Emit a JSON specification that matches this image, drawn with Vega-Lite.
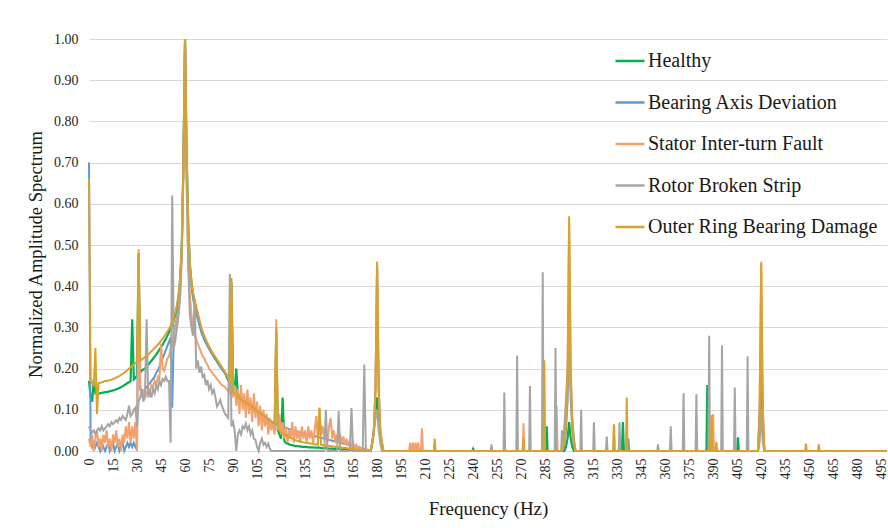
{
  "$schema": "https://vega.github.io/schema/vega-lite/v6.json",
  "autosize": {"type": "none"},
  "padding": {"left": 89, "top": 39, "right": 1, "bottom": 77},
  "width": 798,
  "height": 412,
  "background": "white",
  "config": {"view": {"stroke": null}, "font": "Liberation Serif"},
  "data": {"values": [
    {"f":0,"H":0.17,"B":0.70,"S":0.03,"R":0.06,"O":0.66},
    {"f":1,"H":0.13,"B":0.03,"S":0.01,"R":0.05,"O":0.17},
    {"f":2,"H":0.12,"B":0.01,"S":0.04,"R":0.045,"O":0.165},
    {"f":3,"H":0.175,"B":0.02,"S":0,"R":0.05,"O":0.16},
    {"f":4,"H":0.14,"B":0.01,"S":0.03,"R":0.04,"O":0.25},
    {"f":5,"H":0.14,"B":0.02,"S":0.05,"R":0.05,"O":0.09},
    {"f":6,"H":0.14,"B":0.01,"S":0.01,"R":0.055,"O":0.165},
    {"f":7,"H":0.14,"B":0,"S":0.03,"R":0.05,"O":0.165},
    {"f":8,"H":0.141,"B":0.02,"S":0,"R":0.06,"O":0.167},
    {"f":9,"H":0.142,"B":0.01,"S":0.04,"R":0.05,"O":0.168},
    {"f":10,"H":0.143,"B":0,"S":0.02,"R":0.055,"O":0.17},
    {"f":11,"H":0.143,"B":0.01,"S":0.05,"R":0.06,"O":0.17},
    {"f":12,"H":0.144,"B":0.02,"S":0.01,"R":0.065,"O":0.171},
    {"f":13,"H":0.145,"B":0,"S":0.03,"R":0.06,"O":0.172},
    {"f":14,"H":0.146,"B":0.01,"S":0,"R":0.07,"O":0.173},
    {"f":15,"H":0.147,"B":0.02,"S":0.04,"R":0.065,"O":0.175},
    {"f":16,"H":0.148,"B":0,"S":0.02,"R":0.07,"O":0.176},
    {"f":17,"H":0.15,"B":0.01,"S":0.05,"R":0.075,"O":0.178},
    {"f":18,"H":0.151,"B":0.02,"S":0.01,"R":0.07,"O":0.18},
    {"f":19,"H":0.153,"B":0,"S":0.03,"R":0.08,"O":0.182},
    {"f":20,"H":0.155,"B":0.01,"S":0,"R":0.075,"O":0.185},
    {"f":21,"H":0.157,"B":0.02,"S":0.04,"R":0.085,"O":0.187},
    {"f":22,"H":0.16,"B":0,"S":0.02,"R":0.08,"O":0.19},
    {"f":23,"H":0.162,"B":0.01,"S":0.06,"R":0.075,"O":0.193},
    {"f":24,"H":0.165,"B":0.02,"S":0.03,"R":0.09,"O":0.196},
    {"f":25,"H":0.167,"B":0.01,"S":0.07,"R":0.11,"O":0.2},
    {"f":26,"H":0.17,"B":0.02,"S":0.02,"R":0.085,"O":0.203},
    {"f":27,"H":0.32,"B":0.01,"S":0.06,"R":0.09,"O":0.206},
    {"f":28,"H":0.174,"B":0.02,"S":0.03,"R":0.1,"O":0.21},
    {"f":29,"H":0.178,"B":0.01,"S":0.07,"R":0.105,"O":0.213},
    {"f":30,"H":0.183,"B":0.02,"S":0,"R":0.06,"O":0.217},
    {"f":31,"H":0.48,"B":0.45,"S":0.49,"R":0.12,"O":0.48},
    {"f":32,"H":0.19,"B":0.15,"S":0.16,"R":0.13,"O":0.22},
    {"f":33,"H":0.195,"B":0.14,"S":0.13,"R":0.15,"O":0.222},
    {"f":34,"H":0.198,"B":0.145,"S":0.15,"R":0.12,"O":0.225},
    {"f":35,"H":0.2,"B":0.15,"S":0.13,"R":0.14,"O":0.228},
    {"f":36,"H":0.205,"B":0.155,"S":0.14,"R":0.32,"O":0.231},
    {"f":37,"H":0.21,"B":0.16,"S":0.15,"R":0.13,"O":0.235},
    {"f":38,"H":0.214,"B":0.165,"S":0.14,"R":0.145,"O":0.238},
    {"f":39,"H":0.219,"B":0.17,"S":0.16,"R":0.13,"O":0.242},
    {"f":40,"H":0.224,"B":0.175,"S":0.155,"R":0.15,"O":0.246},
    {"f":41,"H":0.229,"B":0.18,"S":0.17,"R":0.14,"O":0.25},
    {"f":42,"H":0.234,"B":0.19,"S":0.16,"R":0.16,"O":0.254},
    {"f":43,"H":0.24,"B":0.195,"S":0.18,"R":0.15,"O":0.258},
    {"f":44,"H":0.246,"B":0.205,"S":0.175,"R":0.17,"O":0.262},
    {"f":45,"H":0.252,"B":0.215,"S":0.26,"R":0.16,"O":0.268},
    {"f":46,"H":0.258,"B":0.225,"S":0.2,"R":0.175,"O":0.272},
    {"f":47,"H":0.265,"B":0.235,"S":0.195,"R":0.17,"O":0.278},
    {"f":48,"H":0.272,"B":0.245,"S":0.21,"R":0.18,"O":0.284},
    {"f":49,"H":0.28,"B":0.255,"S":0.225,"R":0.17,"O":0.29},
    {"f":50,"H":0.288,"B":0.265,"S":0.23,"R":0.17,"O":0.297},
    {"f":51,"H":0.297,"B":0.275,"S":0.25,"R":0.02,"O":0.305},
    {"f":52,"H":0.307,"B":0.105,"S":0.26,"R":0.62,"O":0.314},
    {"f":53,"H":0.318,"B":0.29,"S":0.28,"R":0.25,"O":0.325},
    {"f":54,"H":0.332,"B":0.305,"S":0.3,"R":0.27,"O":0.338},
    {"f":55,"H":0.35,"B":0.325,"S":0.32,"R":0.3,"O":0.355},
    {"f":56,"H":0.375,"B":0.35,"S":0.34,"R":0.33,"O":0.38},
    {"f":57,"H":0.42,"B":0.4,"S":0.38,"R":0.38,"O":0.42},
    {"f":58,"H":0.5,"B":0.5,"S":0.48,"R":0.48,"O":0.5},
    {"f":59,"H":0.7,"B":0.7,"S":0.68,"R":0.7,"O":0.7},
    {"f":60,"H":1,"B":1,"S":1,"R":1,"O":1},
    {"f":61,"H":0.72,"B":0.7,"S":0.66,"R":0.65,"O":0.72},
    {"f":62,"H":0.55,"B":0.53,"S":0.46,"R":0.45,"O":0.55},
    {"f":63,"H":0.45,"B":0.45,"S":0.38,"R":0.33,"O":0.46},
    {"f":64,"H":0.41,"B":0.4,"S":0.33,"R":0.3,"O":0.415},
    {"f":65,"H":0.38,"B":0.37,"S":0.3,"R":0.28,"O":0.385},
    {"f":66,"H":0.36,"B":0.35,"S":0.28,"R":0.37,"O":0.365},
    {"f":67,"H":0.345,"B":0.335,"S":0.27,"R":0.2,"O":0.35},
    {"f":68,"H":0.33,"B":0.32,"S":0.26,"R":0.22,"O":0.335},
    {"f":69,"H":0.31,"B":0.305,"S":0.25,"R":0.19,"O":0.318},
    {"f":70,"H":0.295,"B":0.29,"S":0.24,"R":0.205,"O":0.302},
    {"f":71,"H":0.285,"B":0.28,"S":0.23,"R":0.18,"O":0.29},
    {"f":72,"H":0.275,"B":0.27,"S":0.225,"R":0.185,"O":0.28},
    {"f":73,"H":0.266,"B":0.262,"S":0.215,"R":0.16,"O":0.27},
    {"f":74,"H":0.258,"B":0.255,"S":0.21,"R":0.172,"O":0.262},
    {"f":75,"H":0.25,"B":0.248,"S":0.2,"R":0.15,"O":0.254},
    {"f":76,"H":0.243,"B":0.241,"S":0.195,"R":0.16,"O":0.247},
    {"f":77,"H":0.236,"B":0.234,"S":0.19,"R":0.14,"O":0.24},
    {"f":78,"H":0.23,"B":0.228,"S":0.185,"R":0.148,"O":0.234},
    {"f":79,"H":0.224,"B":0.222,"S":0.18,"R":0.13,"O":0.228},
    {"f":80,"H":0.218,"B":0.216,"S":0.175,"R":0.108,"O":0.222},
    {"f":81,"H":0.212,"B":0.21,"S":0.17,"R":0.115,"O":0.216},
    {"f":82,"H":0.206,"B":0.204,"S":0.165,"R":0.124,"O":0.21},
    {"f":83,"H":0.2,"B":0.198,"S":0.16,"R":0.11,"O":0.204},
    {"f":84,"H":0.195,"B":0.193,"S":0.158,"R":0.1,"O":0.198},
    {"f":85,"H":0.19,"B":0.188,"S":0.155,"R":0.09,"O":0.192},
    {"f":86,"H":0.18,"B":0.183,"S":0.15,"R":0.085,"O":0.185},
    {"f":87,"H":0.172,"B":0.178,"S":0.145,"R":0.08,"O":0.178},
    {"f":88,"H":0.165,"B":0.17,"S":0.14,"R":0.43,"O":0.172},
    {"f":89,"H":0.41,"B":0.4,"S":0.39,"R":0.06,"O":0.42},
    {"f":90,"H":0.16,"B":0.155,"S":0.13,"R":0.07,"O":0.145},
    {"f":91,"H":0.145,"B":0.15,"S":0.16,"R":0.05,"O":0.14},
    {"f":92,"H":0.2,"B":0.145,"S":0.11,"R":0,"O":0.135},
    {"f":93,"H":0.135,"B":0.14,"S":0.15,"R":0.04,"O":0.132},
    {"f":94,"H":0.13,"B":0.136,"S":0.09,"R":0.05,"O":0.128},
    {"f":95,"H":0.126,"B":0.132,"S":0.16,"R":0.04,"O":0.125},
    {"f":96,"H":0.122,"B":0.128,"S":0.1,"R":0.06,"O":0.122},
    {"f":97,"H":0.118,"B":0.124,"S":0.14,"R":0.055,"O":0.12},
    {"f":98,"H":0.115,"B":0.12,"S":0.08,"R":0.067,"O":0.118},
    {"f":99,"H":0.112,"B":0.117,"S":0.15,"R":0.05,"O":0.115},
    {"f":100,"H":0.109,"B":0.114,"S":0.09,"R":0.06,"O":0.112},
    {"f":101,"H":0.106,"B":0.111,"S":0.13,"R":0.04,"O":0.11},
    {"f":102,"H":0.103,"B":0.108,"S":0.07,"R":0.05,"O":0.107},
    {"f":103,"H":0.1,"B":0.105,"S":0.14,"R":0.03,"O":0.104},
    {"f":104,"H":0.097,"B":0.102,"S":0.08,"R":0.027,"O":0.101},
    {"f":105,"H":0.094,"B":0.099,"S":0.12,"R":0.01,"O":0.098},
    {"f":106,"H":0.091,"B":0.096,"S":0.06,"R":0,"O":0.095},
    {"f":107,"H":0.088,"B":0.093,"S":0.11,"R":0.02,"O":0.092},
    {"f":108,"H":0.085,"B":0.09,"S":0.05,"R":0.03,"O":0.089},
    {"f":109,"H":0.082,"B":0.087,"S":0.1,"R":0.015,"O":0.086},
    {"f":110,"H":0.079,"B":0.084,"S":0.06,"R":0.02,"O":0.083},
    {"f":111,"H":0.076,"B":0.081,"S":0.09,"R":0.01,"O":0.08},
    {"f":112,"H":0.072,"B":0.078,"S":0.04,"R":0.018,"O":0.077},
    {"f":113,"H":0.068,"B":0.075,"S":0.08,"R":0.005,"O":0.074},
    {"f":114,"H":0.064,"B":0.072,"S":0.05,"R":0,"O":0.071},
    {"f":115,"H":0.06,"B":0.07,"S":0.07,"R":0,"O":0.068},
    {"f":116,"H":0.055,"B":0.068,"S":0.04,"R":0,"O":0.065},
    {"f":117,"H":0.29,"B":0.066,"S":0.32,"R":0,"O":0.3},
    {"f":118,"H":0.05,"B":0.064,"S":0.05,"R":0,"O":0.06},
    {"f":119,"H":0.04,"B":0.062,"S":0.09,"R":0,"O":0.05},
    {"f":120,"H":0.03,"B":0.06,"S":0.04,"R":0,"O":0.045},
    {"f":121,"H":0.13,"B":0.058,"S":0.07,"R":0,"O":0.042},
    {"f":122,"H":0.025,"B":0.057,"S":0.03,"R":0,"O":0.04},
    {"f":123,"H":0.02,"B":0.056,"S":0.06,"R":0,"O":0.038},
    {"f":124,"H":0.018,"B":0.055,"S":0.02,"R":0,"O":0.036},
    {"f":125,"H":0.016,"B":0.053,"S":0.05,"R":0,"O":0.034},
    {"f":126,"H":0.015,"B":0.052,"S":0.03,"R":0,"O":0.032},
    {"f":127,"H":0.014,"B":0.05,"S":0.07,"R":0,"O":0.03},
    {"f":128,"H":0.013,"B":0.049,"S":0.02,"R":0,"O":0.028},
    {"f":129,"H":0.012,"B":0.048,"S":0.06,"R":0,"O":0.026},
    {"f":130,"H":0.012,"B":0.047,"S":0.03,"R":0,"O":0.025},
    {"f":131,"H":0.011,"B":0.046,"S":0.05,"R":0,"O":0.024},
    {"f":132,"H":0.011,"B":0.045,"S":0.02,"R":0,"O":0.023},
    {"f":133,"H":0.01,"B":0.044,"S":0.06,"R":0,"O":0.022},
    {"f":134,"H":0.01,"B":0.043,"S":0.03,"R":0,"O":0.021},
    {"f":135,"H":0.01,"B":0.042,"S":0.05,"R":0,"O":0.02},
    {"f":136,"H":0.01,"B":0.041,"S":0.02,"R":0,"O":0.02},
    {"f":137,"H":0.009,"B":0.04,"S":0.06,"R":0,"O":0.019},
    {"f":138,"H":0.009,"B":0.039,"S":0.03,"R":0,"O":0.018},
    {"f":139,"H":0.009,"B":0.038,"S":0.05,"R":0,"O":0.018},
    {"f":140,"H":0.009,"B":0.037,"S":0.02,"R":0,"O":0.017},
    {"f":141,"H":0.008,"B":0.036,"S":0.05,"R":0,"O":0.016},
    {"f":142,"H":0.008,"B":0.035,"S":0.085,"R":0,"O":0.016},
    {"f":143,"H":0.008,"B":0.034,"S":0.03,"R":0,"O":0.015},
    {"f":144,"H":0.008,"B":0.033,"S":0.105,"R":0,"O":0.105},
    {"f":145,"H":0.007,"B":0.032,"S":0.04,"R":0,"O":0.015},
    {"f":146,"H":0.007,"B":0.031,"S":0.06,"R":0,"O":0.014},
    {"f":147,"H":0.007,"B":0.03,"S":0.03,"R":0,"O":0.014},
    {"f":148,"H":0.007,"B":0.029,"S":0.05,"R":0.1,"O":0.013},
    {"f":149,"H":0.006,"B":0.028,"S":0.02,"R":0,"O":0.013},
    {"f":150,"H":0.006,"B":0.027,"S":0.06,"R":0,"O":0.012},
    {"f":151,"H":0.006,"B":0.026,"S":0.08,"R":0,"O":0.012},
    {"f":152,"H":0.006,"B":0.025,"S":0.03,"R":0,"O":0.011},
    {"f":153,"H":0.005,"B":0.024,"S":0.05,"R":0,"O":0.011},
    {"f":154,"H":0.005,"B":0.023,"S":0.02,"R":0,"O":0.01},
    {"f":155,"H":0.005,"B":0.022,"S":0.04,"R":0,"O":0.01},
    {"f":156,"H":0.005,"B":0.021,"S":0.02,"R":0.097,"O":0.009},
    {"f":157,"H":0.004,"B":0.02,"S":0.04,"R":0,"O":0.009},
    {"f":158,"H":0.004,"B":0.019,"S":0.02,"R":0,"O":0.008},
    {"f":159,"H":0.004,"B":0.018,"S":0.035,"R":0,"O":0.008},
    {"f":160,"H":0.004,"B":0.017,"S":0.015,"R":0,"O":0.007},
    {"f":161,"H":0.003,"B":0.016,"S":0.03,"R":0,"O":0.007},
    {"f":162,"H":0.003,"B":0.015,"S":0.012,"R":0,"O":0.006},
    {"f":163,"H":0.003,"B":0.014,"S":0.025,"R":0,"O":0.006},
    {"f":164,"H":0.003,"B":0.013,"S":0.01,"R":0.104,"O":0.005},
    {"f":165,"H":0.002,"B":0.012,"S":0.02,"R":0,"O":0.005},
    {"f":166,"H":0.002,"B":0.011,"S":0.008,"R":0,"O":0.004},
    {"f":167,"H":0.002,"B":0.01,"S":0.015,"R":0,"O":0.004},
    {"f":168,"H":0.002,"B":0.009,"S":0.005,"R":0,"O":0.003},
    {"f":169,"H":0.001,"B":0.008,"S":0.01,"R":0,"O":0.003},
    {"f":170,"H":0.001,"B":0.007,"S":0.004,"R":0,"O":0.002},
    {"f":171,"H":0.001,"B":0.006,"S":0.006,"R":0,"O":0.002},
    {"f":172,"H":0.001,"B":0.005,"S":0.003,"R":0.21,"O":0.001},
    {"f":173,"H":0,"B":0.004,"S":0.004,"R":0,"O":0.001},
    {"f":174,"H":0,"B":0.003,"S":0.002,"R":0,"O":0},
    {"f":175,"H":0,"B":0.002,"S":0,"R":0,"O":0},
    {"f":176,"H":0,"B":0,"S":0,"R":0,"O":0},
    {"f":177,"H":0.02,"B":0.02,"S":0.02,"R":0.02,"O":0.02},
    {"f":178,"H":0.05,"B":0.05,"S":0.05,"R":0.05,"O":0.05},
    {"f":179,"H":0.1,"B":0.15,"S":0.15,"R":0.08,"O":0.15},
    {"f":180,"H":0.13,"B":0.45,"S":0.45,"R":0.1,"O":0.46},
    {"f":181,"H":0.08,"B":0.15,"S":0.15,"R":0.05,"O":0.15},
    {"f":182,"H":0.03,"B":0.05,"S":0.05,"R":0.02,"O":0.05},
    {"f":183,"H":0.01,"B":0.02,"S":0.02,"R":0,"O":0.02},
    {"f":184,"H":0,"B":0,"S":0,"R":0,"O":0},
    {"f":200,"S":0},{"f":200.6,"S":0.02},{"f":201.4,"S":0},{"f":202.3,"S":0.02},{"f":203.1,"S":0},
    {"f":204,"S":0.02},{"f":204.8,"S":0},{"f":205.6,"S":0.02},{"f":206.4,"S":0},{"f":207.4,"S":0},
    {"f":208,"S":0.055},{"f":208.6,"S":0},
    {"f":215.5,"O":0},{"f":216,"O":0.03},{"f":216.5,"O":0},
    {"f":239.5,"H":0},{"f":240,"H":0.005},{"f":240.5,"H":0},
    {"f":251,"R":0},{"f":251.5,"R":0.016},{"f":252,"R":0},
    {"f":259,"R":0},{"f":259.5,"R":0.142},{"f":260,"R":0},
    {"f":267,"R":0},{"f":267.5,"R":0.232},{"f":268,"R":0},
    {"f":271,"S":0,"O":0},{"f":271.5,"S":0.067,"O":0.03},{"f":272,"S":0,"O":0},
    {"f":275,"R":0},{"f":275.5,"R":0.158},{"f":276,"R":0},
    {"f":283,"R":0},{"f":283.5,"R":0.434},{"f":284,"R":0,"O":0},{"f":284.5,"O":0.22},{"f":285,"O":0},
    {"f":285.5,"H":0},{"f":286,"H":0.06},{"f":286.5,"H":0},
    {"f":291,"R":0},{"f":291.5,"R":0.25},{"f":291.7,"S":0},{"f":292,"R":0},{"f":292.2,"S":0.11},{"f":292.8,"S":0},
    {"f":295,"H":0,"B":0,"S":0,"R":0,"O":0},
    {"f":295.5,"R":0.05},
    {"f":296,"R":0},
    {"f":297,"H":0,"B":0.01,"S":0.02,"R":0.06,"O":0.02},
    {"f":298,"H":0.01,"B":0.05,"S":0.06,"R":0.12,"O":0.06},
    {"f":299,"H":0.03,"B":0.12,"S":0.18,"R":0.2,"O":0.2},
    {"f":300,"H":0.07,"B":0.3,"S":0.55,"R":0.25,"O":0.57},
    {"f":301,"H":0.03,"B":0.12,"S":0.18,"R":0.15,"O":0.2},
    {"f":302,"H":0.01,"B":0.05,"S":0.06,"R":0.08,"O":0.06},
    {"f":303,"H":0,"B":0.01,"S":0.02,"R":0.03,"O":0.02},
    {"f":304,"H":0,"B":0,"S":0,"R":0,"O":0},
    {"f":307,"R":0},{"f":307.5,"R":0.1},{"f":308,"R":0},
    {"f":315,"R":0},{"f":315.5,"R":0.07},{"f":316,"R":0},
    {"f":323,"R":0},{"f":323.5,"R":0.035},{"f":324,"R":0},
    {"f":327.5,"S":0,"O":0},{"f":328,"S":0.06,"O":0.065},{"f":328.5,"S":0,"O":0},
    {"f":331,"R":0},{"f":331.5,"R":0.07},{"f":332,"R":0},
    {"f":333,"H":0},{"f":333.6,"H":0.07},{"f":334.2,"H":0},
    {"f":335.5,"O":0},{"f":336,"O":0.13},{"f":336.5,"O":0,"B":0},{"f":337,"B":0.03},{"f":337.5,"B":0},
    {"f":355,"R":0},{"f":355.5,"R":0.016},{"f":356,"R":0},
    {"f":363,"R":0},{"f":363.5,"R":0.06},{"f":364,"R":0},
    {"f":371,"R":0},{"f":371.5,"R":0.14},{"f":372,"R":0},
    {"f":379,"R":0},{"f":379.5,"R":0.138},{"f":380,"R":0},
    {"f":385.8,"H":0},{"f":386.3,"H":0.16},{"f":386.8,"H":0},
    {"f":387,"R":0},{"f":387.5,"R":0.28},{"f":388,"R":0},
    {"f":388.5,"O":0},{"f":389,"O":0.087},{"f":389.5,"O":0,"S":0},{"f":390,"S":0.09},{"f":390.5,"S":0},
    {"f":391.5,"O":0},{"f":392,"O":0.022},{"f":392.5,"O":0},
    {"f":395,"R":0},{"f":395.5,"R":0.256},{"f":396,"R":0},
    {"f":403,"R":0},{"f":403.5,"R":0.154},{"f":404,"R":0},
    {"f":405,"H":0},{"f":405.5,"H":0.033},{"f":406,"H":0},
    {"f":411,"R":0},{"f":411.5,"R":0.23},{"f":412,"R":0},
    {"f":418,"H":0,"B":0,"S":0,"R":0,"O":0},
    {"f":419,"H":0.05,"B":0.08,"S":0.1,"R":0.02,"O":0.1},
    {"f":420,"H":0.2,"B":0.3,"S":0.46,"R":0.1,"O":0.455},
    {"f":421,"H":0.05,"B":0.08,"S":0.1,"R":0.02,"O":0.1},
    {"f":422,"H":0,"B":0,"S":0,"R":0,"O":0},
    {"f":447.5,"O":0},{"f":448,"O":0.018},{"f":448.5,"O":0},
    {"f":455.5,"O":0},{"f":456,"O":0.016},{"f":456.5,"O":0},
    {"f":498.6,"H":0,"B":0,"S":0,"R":0,"O":0}
  ]},
  "transform": [
    {"fold": ["H","B","S","R","O"], "as": ["k","v"]},
    {"filter": "isValid(datum.v)"}
  ],
  "encoding": {
    "x": {
      "field": "f", "type": "quantitative",
      "scale": {"domain": [0, 498.6], "nice": false, "zero": false},
      "axis": {
        "title": "Frequency  (Hz)",
        "values": [0,15,30,45,60,75,90,105,120,135,150,165,180,195,210,225,240,255,270,285,300,315,330,345,360,375,390,405,420,435,450,465,480,495],
        "labelAngle": 270,
        "labelFont": "Liberation Serif", "labelFontSize": 14, "labelColor": "#262626",
        "labelPadding": 7, "labelOverlap": false,
        "ticks": false, "grid": false,
        "domain": true, "domainColor": "#D9D9D9", "domainWidth": 1,
        "titleFont": "Liberation Serif", "titleFontSize": 19, "titleFontWeight": "normal", "titleColor": "#1a1a1a",
        "titlePadding": 20
      }
    },
    "y": {
      "field": "v", "type": "quantitative",
      "scale": {"domain": [0, 1], "nice": false},
      "axis": {
        "title": "Normalized Amplitude Spectrum",
        "values": [0,0.1,0.2,0.3,0.4,0.5,0.6,0.7,0.8,0.9,1],
        "format": ".2f",
        "labelFont": "Liberation Serif", "labelFontSize": 14, "labelColor": "#262626",
        "labelPadding": 11,
        "ticks": false, "domain": false,
        "grid": true, "gridColor": "#D9D9D9", "gridWidth": 1,
        "titleFont": "Liberation Serif", "titleFontSize": 18.6, "titleFontWeight": "normal", "titleColor": "#1a1a1a",
        "titlePadding": 8, "titleY": 215
      }
    },
    "color": {
      "field": "k", "type": "nominal",
      "scale": {"domain": ["H","B","S","R","O"], "range": ["#00B050","#5B9BD5","#F4A06C","#A5A5A5","#DAA22A"]},
      "legend": {
        "title": null,
        "orient": "none", "legendX": 525, "legendY": 6,
        "symbolType": "stroke", "symbolSize": 841, "symbolStrokeWidth": 2.5,
        "rowPadding": 15.5, "labelOffset": 2, "padding": 0,
        "labelFont": "Liberation Serif", "labelFontSize": 20, "labelColor": "#1a1a1a", "labelLimit": 400,
        "labelExpr": "{'H':'Healthy','B':'Bearing Axis Deviation','S':'Stator Inter-turn Fault','R':'Rotor Broken Strip','O':'Outer Ring Bearing Damage'}[datum.label]"
      }
    }
  },
  "layer": [
    {"transform": [{"filter": "datum.k == 'H'"}], "mark": {"type": "line", "strokeWidth": 2.2}},
    {"transform": [{"filter": "datum.k == 'B'"}], "mark": {"type": "line", "strokeWidth": 2}},
    {"transform": [{"filter": "datum.k == 'S'"}], "mark": {"type": "line", "strokeWidth": 2}},
    {"transform": [{"filter": "datum.k == 'R'"}], "mark": {"type": "line", "strokeWidth": 2}},
    {"transform": [{"filter": "datum.k == 'O'"}], "mark": {"type": "line", "strokeWidth": 2}}
  ]
}
